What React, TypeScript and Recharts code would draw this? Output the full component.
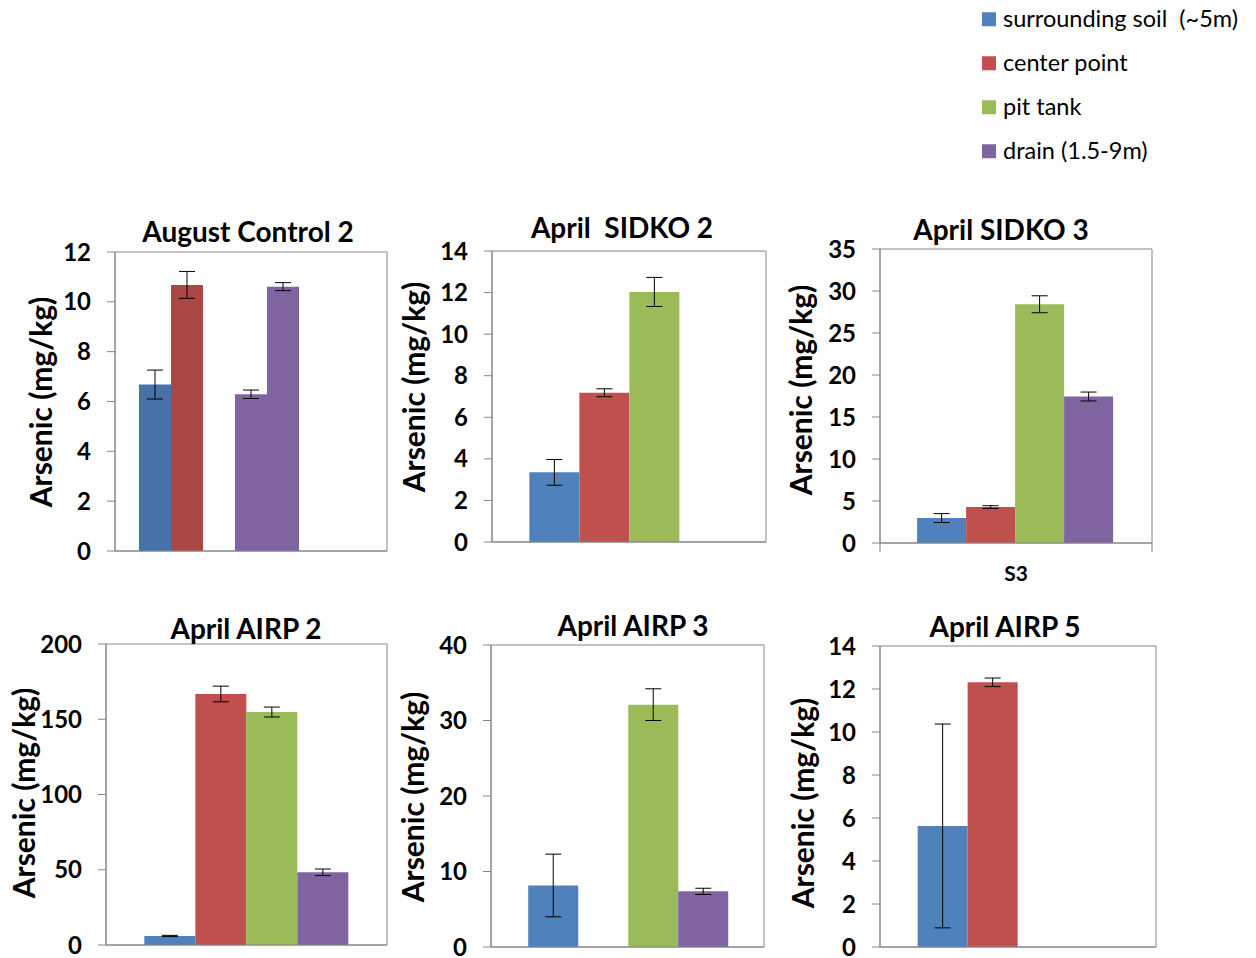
import { Bar, BarChart, ErrorBar, ReferenceArea, XAxis, YAxis } from 'recharts'

const FONT = "Lato, 'Liberation Sans', sans-serif"
const GRID = '#868686'

// legend / series
const seriesNames = ['surrounding soil  (~5m)', 'center point', 'pit tank', 'drain (1.5-9m)']
const seriesColors = ['#4F81BD', '#C0504D', '#9BBB59', '#8064A2']
// the control chart uses 7 slots (darker Excel palette)
const controlColors = ['#4672A8', '#AA4644', '#89A54E', '#8064A2', '#8064A2', '#4BACC6', '#F79646']

const panelTitles = ['August Control 2', 'April  SIDKO 2', 'April SIDKO 3', 'April AIRP 2', 'April AIRP 3', 'April AIRP 5']
const yLabel = 'Arsenic (mg/kg)'

const controlValues = [6.68, 10.68, null, 6.29, 10.61, null, null]
const controlErrors = [0.58, 0.54, null, 0.17, 0.16, null, null]
const controlTicks = [0, 2, 4, 6, 8, 10, 12]

const sidko2Values = [3.35, 7.18, 12.03, null]
const sidko2Errors = [0.62, 0.19, 0.7, null]
const sidko2Ticks = [0, 2, 4, 6, 8, 10, 12, 14]

const sidko3Values = [2.97, 4.28, 28.42, 17.44]
const sidko3Errors = [0.53, 0.16, 1.01, 0.53]
const sidko3Ticks = [0, 5, 10, 15, 20, 25, 30, 35]
const sidko3Category = 'S3'

const airp2Values = [6.0, 166.8, 154.8, 48.3]
const airp2Errors = [0.4, 5.2, 3.3, 2.2]
const airp2Ticks = [0, 50, 100, 150, 200]

const airp3Values = [8.15, null, 32.1, 7.37]
const airp3Errors = [4.15, null, 2.1, 0.41]
const airp3Ticks = [0, 10, 20, 30, 40]

const airp5Values = [5.63, 12.31, null, null]
const airp5Errors = [4.74, 0.2, null, null]
const airp5Ticks = [0, 2, 4, 6, 8, 10, 12, 14]

type Layout = {
	px: number
	py: number
	pw: number
	ph: number
	tx: number
	ty: number
	lx: number
	ly: number
}

// plot rectangles, title centres and y-label centres
const layouts: Layout[] = [
	{ px: 115, py: 252, pw: 272, ph: 299, tx: 248, ty: 231, lx: 40, ly: 402 },
	{ px: 492, py: 251, pw: 274, ph: 291, tx: 622, ty: 227, lx: 413, ly: 387 },
	{ px: 880, py: 249, pw: 272, ph: 294, tx: 1001, ty: 229, lx: 800, ly: 390 },
	{ px: 106, py: 644, pw: 281, ph: 301, tx: 246, ty: 628, lx: 23, ly: 793 },
	{ px: 491, py: 645, pw: 273, ph: 302, tx: 633, ty: 625, lx: 412, ly: 797 },
	{ px: 880, py: 646, pw: 276, ph: 301, tx: 1005, ty: 626, lx: 802, ly: 803 },
]

const ML = 110
const MT = 60
const MR = 20
const MB = 4
const XH = 40

type PanelProps = {
	title: string
	values: (number | null)[]
	errors: (number | null)[]
	ticks: number[]
	colors: string[]
	layout: Layout
	category?: string
}

const Panel = ({ title, values, errors, ticks, colors, layout, category }: PanelProps) => {
	const { px, py, pw, ph } = layout
	const row: Record<string, number | string | null> = { name: category ?? '' }
	values.forEach((v, i) => {
		row[`s${i}`] = v
		row[`e${i}`] = errors[i]
	})
	const n = values.length
	const gapPct = `${((0.75 / (n + 1.5)) * 100).toFixed(2)}%`
	const yMax = ticks[ticks.length - 1]

	const CategoryTick = (props: { x: number; y: number; payload: { value: string } }) => {
		const { x, y, payload } = props
		return (
			<g>
				<line x1={x - pw / 2} x2={x - pw / 2} y1={y} y2={y + 9} stroke={GRID} />
				<line x1={x + pw / 2} x2={x + pw / 2} y1={y} y2={y + 9} stroke={GRID} />
				<text x={x} y={y + 33} textAnchor='middle' dominantBaseline='middle' fontFamily={FONT} fontWeight={700} fontSize={21} fill='#000'>
					{payload.value}
				</text>
			</g>
		)
	}

	return (
		<>
			<div style={{ position: 'absolute', left: px - ML, top: py - MT }}>
				<BarChart
					width={pw + ML + MR}
					height={ph + MT + MB + XH}
					data={[row]}
					margin={{ top: MT, left: 0, right: MR, bottom: MB }}
					barGap={0}
					barCategoryGap={gapPct}
				>
					<XAxis
						dataKey='name'
						height={XH}
						axisLine={{ stroke: GRID }}
						tickLine={false}
						tickSize={0}
						tickMargin={0}
						tick={category ? (p: any) => <CategoryTick {...p} /> : false}
					/>
					<YAxis
						type='number'
						domain={[0, yMax]}
						ticks={ticks}
						interval={0}
						width={ML}
						tickSize={8}
						tickMargin={16}
						axisLine={{ stroke: GRID }}
						tickLine={{ stroke: GRID }}
						tick={{ fill: '#000', fontSize: 24, fontWeight: 700, fontFamily: FONT }}
					/>
					<ReferenceArea y1={0} y2={yMax} fill='none' stroke={GRID} ifOverflow='visible' />
					{values.map((_, i) => (
						<Bar key={i} dataKey={`s${i}`} fill={colors[i]} isAnimationActive={false}>
							<ErrorBar dataKey={`e${i}`} width={8} stroke='#000' strokeWidth={1} />
						</Bar>
					))}
				</BarChart>
			</div>
			<div
				style={{
					position: 'absolute',
					left: layout.tx,
					top: layout.ty,
					transform: 'translate(-50%, -50%)',
					whiteSpace: 'pre',
					fontFamily: FONT,
					fontWeight: 700,
					fontSize: 28,
					lineHeight: 1,
				}}
			>
				{title}
			</div>
			<div
				style={{
					position: 'absolute',
					left: layout.lx,
					top: layout.ly,
					transform: 'translate(-50%, -50%) rotate(-90deg)',
					whiteSpace: 'pre',
					fontFamily: FONT,
					fontWeight: 700,
					fontSize: 30,
					lineHeight: 1,
				}}
			>
				{yLabel}
			</div>
		</>
	)
}

const Legend = () => (
	<>
		{seriesNames.map((name, i) => (
			<div
				key={name}
				style={{
					position: 'absolute',
					left: 982,
					top: 19 + i * 44,
					transform: 'translateY(-50%)',
					display: 'flex',
					alignItems: 'center',
					fontFamily: FONT,
					fontSize: 23.5,
					whiteSpace: 'pre',
					lineHeight: 1,
				}}
			>
				<span style={{ width: 14, height: 14, background: seriesColors[i], marginRight: 7 }} />
				<span>{name}</span>
			</div>
		))}
	</>
)

export default function App() {
	return (
		<div style={{ position: 'absolute', left: 0, top: 0, width: 1256, height: 958, background: '#fff', overflow: 'hidden' }}>
			<Legend />
			<Panel title={panelTitles[0]} values={controlValues} errors={controlErrors} ticks={controlTicks} colors={controlColors} layout={layouts[0]} />
			<Panel title={panelTitles[1]} values={sidko2Values} errors={sidko2Errors} ticks={sidko2Ticks} colors={seriesColors} layout={layouts[1]} />
			<Panel title={panelTitles[2]} values={sidko3Values} errors={sidko3Errors} ticks={sidko3Ticks} colors={seriesColors} layout={layouts[2]} category={sidko3Category} />
			<Panel title={panelTitles[3]} values={airp2Values} errors={airp2Errors} ticks={airp2Ticks} colors={seriesColors} layout={layouts[3]} />
			<Panel title={panelTitles[4]} values={airp3Values} errors={airp3Errors} ticks={airp3Ticks} colors={seriesColors} layout={layouts[4]} />
			<Panel title={panelTitles[5]} values={airp5Values} errors={airp5Errors} ticks={airp5Ticks} colors={seriesColors} layout={layouts[5]} />
		</div>
	)
}
